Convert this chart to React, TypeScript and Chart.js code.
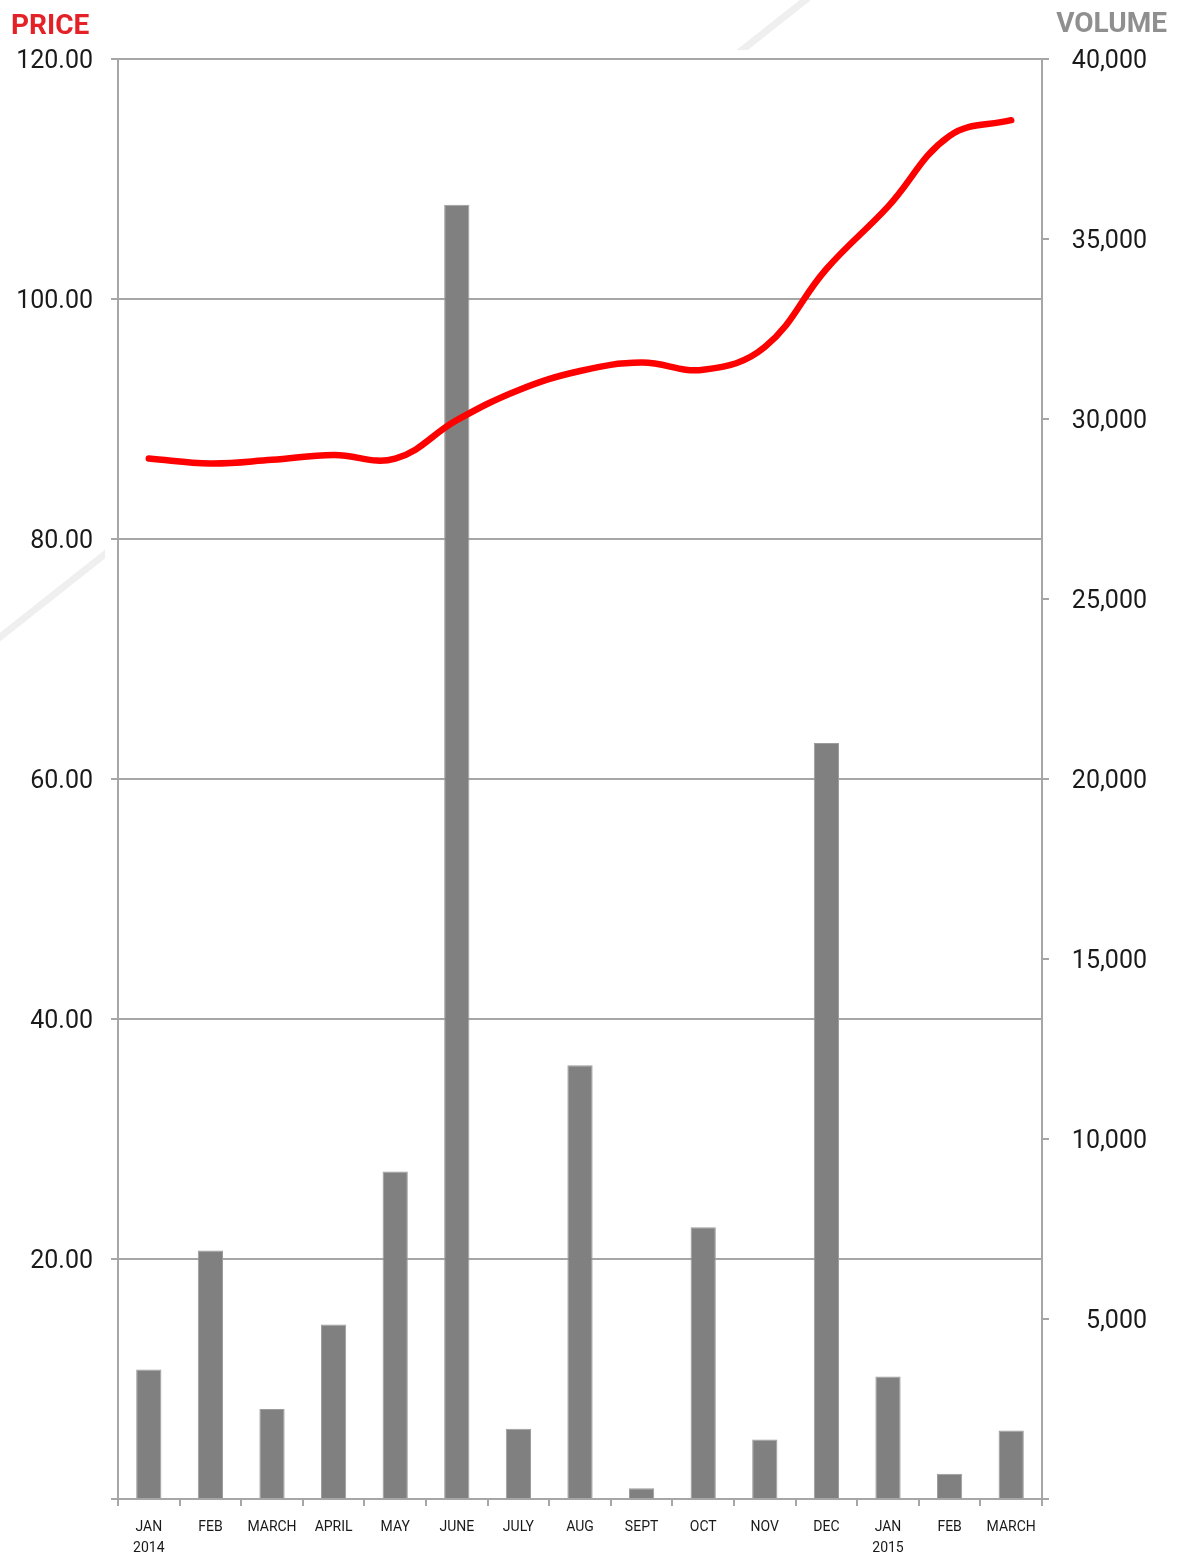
import React, { useEffect, useRef } from "react";
import { Chart, registerables } from "chart.js";

Chart.register(...registerables);

const categories: string[][] = [
  ["JAN", "2014"], ["FEB"], ["MARCH"], ["APRIL"], ["MAY"], ["JUNE"], ["JULY"], ["AUG"],
  ["SEPT"], ["OCT"], ["NOV"], ["DEC"], ["JAN", "2015"], ["FEB"], ["MARCH"],
];

const priceValues: number[] = [
  86.7, 86.3, 86.6, 87.0, 86.7, 89.9, 92.4, 94.0, 94.7, 94.1, 96.0, 102.5, 107.7, 113.6, 114.9,
];

const volumeValues: number[] = [
  3600, 6900, 2500, 4850, 9100, 35950, 1950, 12050, 300, 7550, 1650, 21000, 3400, 700, 1900,
];

const priceTicks = { min: 0, max: 120, step: 20 };
const volumeTicks = { min: 0, max: 40000, step: 5000 };

const FONT = "Roboto, 'DejaVu Sans', sans-serif";
const GRID = "#a6a6a6";

const backgroundPlugin = {
  id: "bgDecor",
  beforeDraw(chart: any) {
    const ctx = chart.ctx as CanvasRenderingContext2D;
    ctx.save();
    ctx.fillStyle = "#ffffff";
    ctx.fillRect(0, 0, chart.width, chart.height);
    // faint diagonal band
    ctx.strokeStyle = "#efefef";
    ctx.lineWidth = 7;
    ctx.beginPath();
    ctx.moveTo(-10, 645);
    ctx.lineTo(818, -10);
    ctx.stroke();
    // white panel behind plot
    ctx.fillStyle = "#ffffff";
    ctx.fillRect(105, 50, 960, 1470);
    // titles
    ctx.font = `bold 28px ${FONT}`;
    ctx.textBaseline = "alphabetic";
    ctx.fillStyle = "#e42127";
    ctx.textAlign = "left";
    ctx.fillText("PRICE", 11, 34);
    ctx.fillStyle = "#8f8f8f";
    ctx.textAlign = "right";
    ctx.fillText("VOLUME", 1167, 32);
    ctx.restore();
  },
};

export default function App() {
  const ref = useRef<HTMLCanvasElement | null>(null);

  useEffect(() => {
    if (!ref.current) return;
    const chart = new Chart(ref.current, {
      type: "bar",
      data: {
        labels: categories,
        datasets: [
          {
            type: "line",
            label: "Price",
            data: priceValues,
            yAxisID: "y",
            borderColor: "#ff0000",
            borderWidth: 6.5,
            pointRadius: 0,
            tension: 0.4,
            borderCapStyle: "round",
            borderJoinStyle: "round",
            order: 0,
          } as any,
          {
            type: "bar",
            label: "Volume",
            data: volumeValues,
            yAxisID: "y1",
            backgroundColor: "#808080",
            borderColor: "#9c9c9c",
            borderWidth: 1,
            barPercentage: 0.41,
            categoryPercentage: 1,
            order: 1,
          } as any,
        ],
      },
      options: {
        responsive: false,
        animation: false,
        devicePixelRatio: 1,
        layout: { padding: { top: 59, right: 30, left: 0, bottom: 0 } },
        plugins: {
          legend: { display: false },
          tooltip: { enabled: false },
          title: { display: false },
        },
        scales: {
          x: {
            type: "category",
            offset: true,
            afterFit: (s: any) => { s.height = 54; },
            grid: {
              offset: true,
              drawOnChartArea: false,
              drawTicks: true,
              tickLength: 7,
              color: GRID,
              lineWidth: 2,
            },
            border: { display: true, color: GRID, width: 2 },
            ticks: {
              autoSkip: false,
              maxRotation: 0,
              minRotation: 0,
              padding: 11,
              color: "#1a1a1a",
              font: { family: FONT, size: 14, lineHeight: 1.5 },
            },
          },
          y: {
            position: "left",
            min: priceTicks.min,
            max: priceTicks.max,
            afterFit: (s: any) => { s.width = 118; },
            grid: {
              drawOnChartArea: true,
              drawTicks: true,
              tickLength: 7,
              color: GRID,
              lineWidth: 2,
            },
            border: { display: true, color: GRID, width: 2 },
            ticks: {
              stepSize: priceTicks.step,
              padding: 18,
              labelOffset: 3,
              color: "#1a1a1a",
              font: { family: FONT, size: 25 },
              callback: (v: any) => (Number(v) === 0 ? "" : Number(v).toFixed(2)),
            },
          },
          y1: {
            position: "right",
            min: volumeTicks.min,
            max: volumeTicks.max,
            afterFit: (s: any) => { s.width = 105; },
            grid: {
              drawOnChartArea: false,
              drawTicks: true,
              tickLength: 7,
              color: GRID,
              lineWidth: 2,
            },
            border: { display: true, color: GRID, width: 2 },
            ticks: {
              stepSize: volumeTicks.step,
              crossAlign: "far",
              padding: 18,
              labelOffset: 3,
              color: "#1a1a1a",
              font: { family: FONT, size: 25 },
              callback: (v: any) => (Number(v) === 0 ? "" : Number(v).toLocaleString("en-US")),
            },
          },
        },
      },
      plugins: [backgroundPlugin],
    } as any);
    return () => chart.destroy();
  }, []);

  return (
    <div style={{ position: "absolute", left: 0, top: 0, width: 1177, height: 1553, background: "#fff" }}>
      <canvas ref={ref} width={1177} height={1553} style={{ width: 1177, height: 1553, display: "block" }} />
    </div>
  );
}
